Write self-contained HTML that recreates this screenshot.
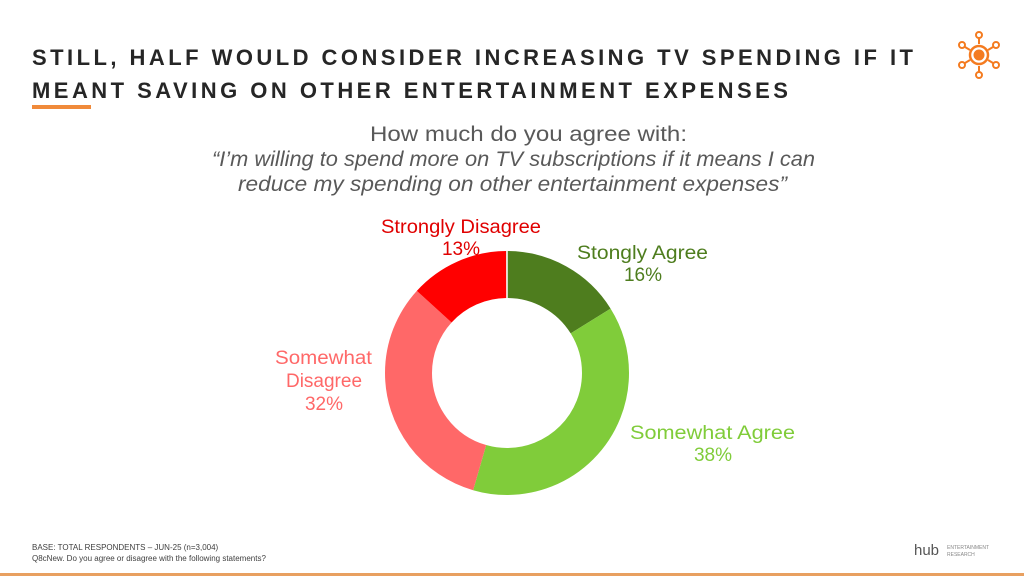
<!DOCTYPE html>
<html><head><meta charset="utf-8"><style>
html,body{margin:0;padding:0;background:#fff;}
svg{display:block;font-family:"Liberation Sans",sans-serif;}
</style></head><body>
<svg width="1024" height="576" viewBox="0 0 1024 576" xmlns="http://www.w3.org/2000/svg">
<rect width="1024" height="576" fill="#fff"/>
<g font-weight="bold" font-size="22" fill="#262626">
<text x="32" y="65" textLength="881" lengthAdjust="spacing">STILL, HALF WOULD CONSIDER INCREASING TV SPENDING IF IT</text>
<text x="32" y="98" textLength="756" lengthAdjust="spacing">MEANT SAVING ON OTHER ENTERTAINMENT EXPENSES</text>
</g>
<rect x="32" y="105" width="59" height="4" fill="#f08a3a"/>
<g fill="#f47b20" stroke="#f47b20">
<circle cx="979" cy="55" r="9" fill="none" stroke-width="2.5"/>
<circle cx="979" cy="55" r="5.5" stroke="none"/>
<g fill="none" stroke-width="2">
<circle cx="979" cy="35" r="3"/><circle cx="979" cy="75" r="3"/>
<circle cx="962" cy="45" r="3"/><circle cx="996" cy="45" r="3"/>
<circle cx="962" cy="65" r="3"/><circle cx="996" cy="65" r="3"/>
<line x1="979" y1="38" x2="979" y2="44"/><line x1="979" y1="66" x2="979" y2="72"/>
<line x1="965" y1="47" x2="970" y2="50"/><line x1="993" y1="47" x2="988" y2="50"/>
<line x1="965" y1="63" x2="970" y2="60"/><line x1="993" y1="63" x2="988" y2="60"/>
</g></g>
<g font-size="21" fill="#595959" lengthAdjust="spacingAndGlyphs">
<text x="370" y="141" textLength="317" lengthAdjust="spacingAndGlyphs">How much do you agree with:</text>
<text x="212" y="166" textLength="603" lengthAdjust="spacingAndGlyphs" font-style="italic">“I’m willing to spend more on TV subscriptions if it means I can</text>
<text x="238" y="191" textLength="549" lengthAdjust="spacingAndGlyphs" font-style="italic">reduce my spending on other entertainment expenses”</text>
</g>
<g transform="rotate(-90 507 373)" fill="none" stroke-width="47">
<circle cx="507" cy="373" r="98.5" pathLength="99" stroke="#4e7d1e" stroke-dasharray="16 83" stroke-dashoffset="0"/>
<circle cx="507" cy="373" r="98.5" pathLength="99" stroke="#80cc3a" stroke-dasharray="38 61" stroke-dashoffset="-16"/>
<circle cx="507" cy="373" r="98.5" pathLength="99" stroke="#ff6868" stroke-dasharray="32 67" stroke-dashoffset="-54"/>
<circle cx="507" cy="373" r="98.5" pathLength="99" stroke="#ff0000" stroke-dasharray="13 86" stroke-dashoffset="-86"/>
</g>
<line x1="507" y1="298" x2="507" y2="250" stroke="#fff" stroke-width="1.5"/>
<g font-size="19">
<text x="381" y="233" textLength="160" lengthAdjust="spacingAndGlyphs" fill="#e00000">Strongly Disagree</text>
<text x="461" y="255" text-anchor="middle" fill="#e00000">13%</text>
<text x="577" y="259" textLength="131" lengthAdjust="spacingAndGlyphs" fill="#4e7d1e">Stongly Agree</text>
<text x="643" y="281" text-anchor="middle" fill="#4e7d1e">16%</text>
<text x="630" y="439" textLength="165" lengthAdjust="spacingAndGlyphs" fill="#80cc3a">Somewhat Agree</text>
<text x="713" y="461" text-anchor="middle" fill="#80cc3a">38%</text>
<text x="275" y="364" textLength="97" lengthAdjust="spacingAndGlyphs" fill="#ff6868">Somewhat</text>
<text x="324" y="387" text-anchor="middle" fill="#ff6868">Disagree</text>
<text x="324" y="410" text-anchor="middle" fill="#ff6868">32%</text>
</g>
<g font-size="8" fill="#404040">
<text x="32" y="550">BASE: TOTAL RESPONDENTS – JUN-25 (n=3,004)</text>
<text x="32" y="561">Q8cNew. Do you agree or disagree with the following statements?</text>
</g>
<text x="914" y="555" font-size="15" fill="#555">hub</text>
<text x="947" y="549" font-size="5" fill="#888">ENTERTAINMENT</text>
<text x="947" y="556" font-size="5" fill="#888">RESEARCH</text>
<rect x="0" y="573" width="1024" height="3" fill="#e8a060"/>
</svg>
</body></html>
